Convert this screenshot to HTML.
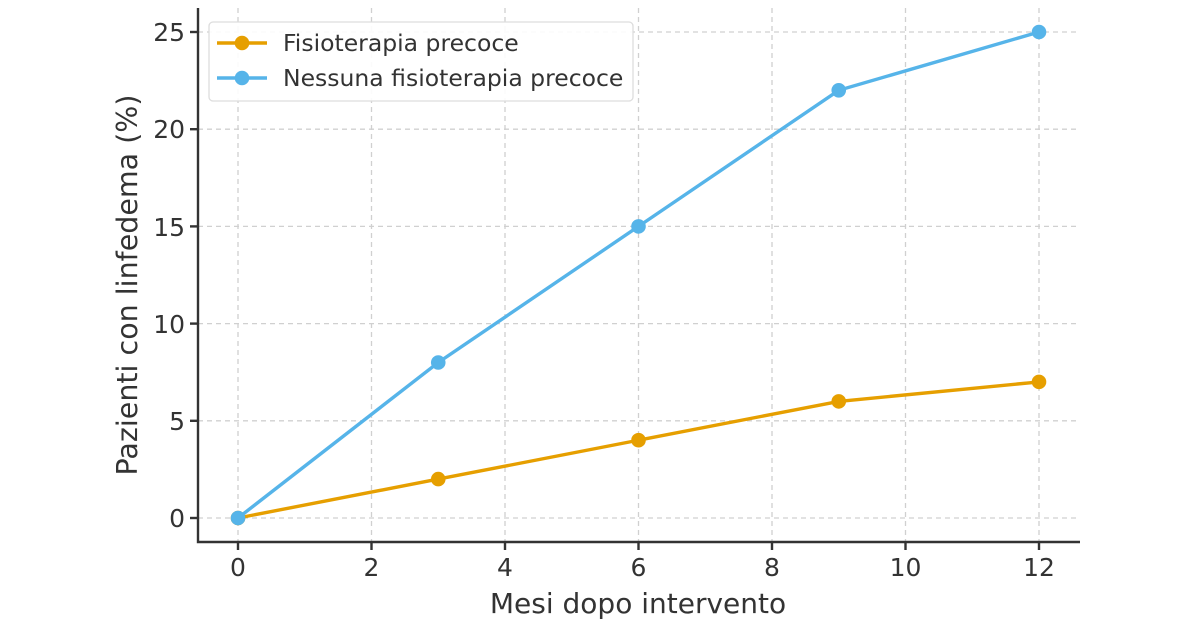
<!DOCTYPE html>
<html><head><meta charset="utf-8"><style>
html,body{margin:0;padding:0;background:#fff;}
svg text{font-family:"DejaVu Sans","Liberation Sans",sans-serif;fill:#333;}
</style></head><body>
<svg width="1200" height="630" viewBox="0 0 1200 630" xmlns="http://www.w3.org/2000/svg">
<rect width="1200" height="630" fill="#fff"/>
<g stroke="#d0d0d0" stroke-width="1.3" stroke-dasharray="5,4">
<line x1="238" y1="8" x2="238" y2="542"/><line x1="371.5" y1="8" x2="371.5" y2="542"/><line x1="505" y1="8" x2="505" y2="542"/><line x1="638.5" y1="8" x2="638.5" y2="542"/><line x1="772" y1="8" x2="772" y2="542"/><line x1="905.5" y1="8" x2="905.5" y2="542"/><line x1="1039" y1="8" x2="1039" y2="542"/>
<line x1="198" y1="518" x2="1080" y2="518"/><line x1="198" y1="420.8" x2="1080" y2="420.8"/><line x1="198" y1="323.6" x2="1080" y2="323.6"/><line x1="198" y1="226.4" x2="1080" y2="226.4"/><line x1="198" y1="129.2" x2="1080" y2="129.2"/><line x1="198" y1="32" x2="1080" y2="32"/>
</g>
<g stroke="#333" stroke-width="2.4" fill="none">
<polyline points="198,8 198,542 1080,542"/>
<line x1="190" y1="518" x2="198" y2="518"/><line x1="190" y1="420.8" x2="198" y2="420.8"/><line x1="190" y1="323.6" x2="198" y2="323.6"/><line x1="190" y1="226.4" x2="198" y2="226.4"/><line x1="190" y1="129.2" x2="198" y2="129.2"/><line x1="190" y1="32" x2="198" y2="32"/>
<line x1="238" y1="542" x2="238" y2="550"/><line x1="371.5" y1="542" x2="371.5" y2="550"/><line x1="505" y1="542" x2="505" y2="550"/><line x1="638.5" y1="542" x2="638.5" y2="550"/><line x1="772" y1="542" x2="772" y2="550"/><line x1="905.5" y1="542" x2="905.5" y2="550"/><line x1="1039" y1="542" x2="1039" y2="550"/>
</g>
<g font-size="25" text-anchor="end">
<text x="185" y="527">0</text><text x="185" y="430">5</text><text x="185" y="333">10</text><text x="185" y="236">15</text><text x="185" y="138">20</text><text x="185" y="41">25</text>
</g>
<g font-size="25" text-anchor="middle">
<text x="238" y="576">0</text><text x="371.5" y="576">2</text><text x="505" y="576">4</text><text x="638.5" y="576">6</text><text x="772" y="576">8</text><text x="905.5" y="576">10</text><text x="1039" y="576">12</text>
<text x="638" y="613" font-size="28">Mesi dopo intervento</text>
<text transform="translate(137,285) rotate(-90)" font-size="28.5">Pazienti con linfedema (%)</text>
</g>
<polyline points="238,518 438.25,479.1 638.5,440.2 838.75,401.4 1039,381.9" fill="none" stroke="#E69F00" stroke-width="3.4"/>
<g fill="#E69F00"><circle cx="238" cy="518" r="7.3"/><circle cx="438.25" cy="479.1" r="7.3"/><circle cx="638.5" cy="440.2" r="7.3"/><circle cx="838.75" cy="401.4" r="7.3"/><circle cx="1039" cy="381.9" r="7.3"/></g>
<polyline points="238,518 438.25,362.5 638.5,226.4 838.75,90.3 1039,32" fill="none" stroke="#56B4E9" stroke-width="3.4"/>
<g fill="#56B4E9"><circle cx="238" cy="518" r="7.3"/><circle cx="438.25" cy="362.5" r="7.3"/><circle cx="638.5" cy="226.4" r="7.3"/><circle cx="838.75" cy="90.3" r="7.3"/><circle cx="1039" cy="32" r="7.3"/></g>
<rect x="209" y="22" width="424" height="79" rx="4" fill="#fff" fill-opacity="0.9" stroke="#ddd" stroke-width="1.3"/>
<line x1="217" y1="43" x2="267" y2="43" stroke="#E69F00" stroke-width="3.4"/><circle cx="242" cy="43" r="7.3" fill="#E69F00"/>
<line x1="217" y1="78" x2="267" y2="78" stroke="#56B4E9" stroke-width="3.4"/><circle cx="242" cy="78" r="7.3" fill="#56B4E9"/>
<text x="283" y="51" font-size="23.5">Fisioterapia precoce</text>
<text x="283" y="86" font-size="23.5">Nessuna fisioterapia precoce</text>
</svg>
</body></html>
